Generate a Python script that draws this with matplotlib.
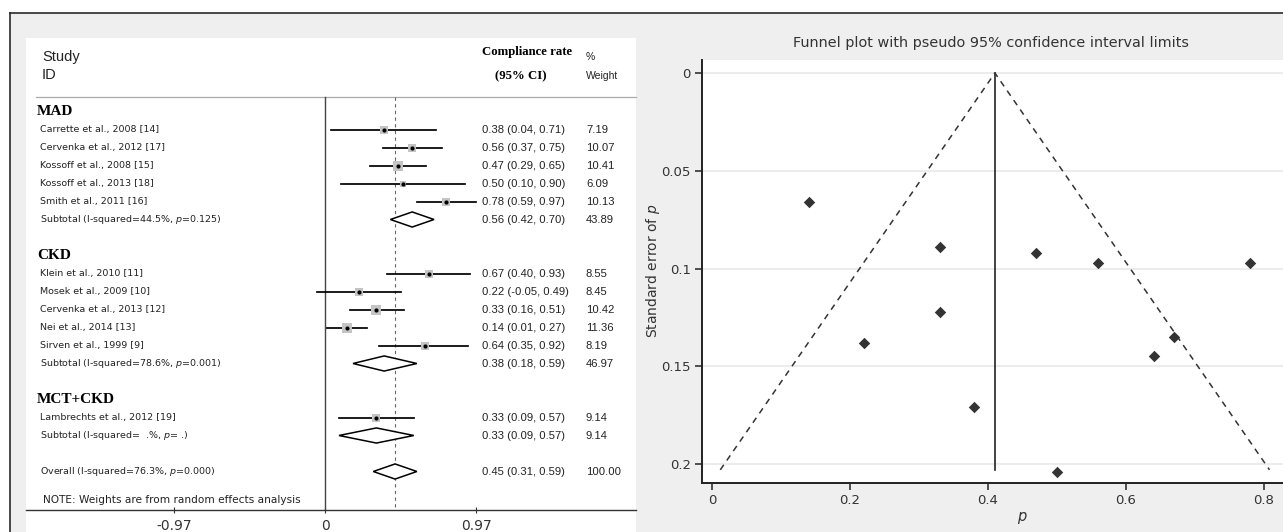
"""
Forest plot of compliance rates by diet group, next to a funnel plot
with pseudo 95% confidence limits.
"""

import matplotlib
matplotlib.use("Agg")
import matplotlib.pyplot as plt
from matplotlib.patches import Rectangle, Polygon

plt.rcParams['mathtext.fontset'] = 'custom'
plt.rcParams['mathtext.it'] = 'DejaVu Sans:italic'
plt.rcParams['mathtext.rm'] = 'DejaVu Sans'

W, H = 1283, 532

# Study data
group_names = ["MAD", "CKD", "MCT+CKD"]
group_sizes = [5, 5, 1]
studies = [
    "Carrette et al., 2008 [14]",
    "Cervenka et al., 2012 [17]",
    "Kossoff et al., 2008 [15]",
    "Kossoff et al., 2013 [18]",
    "Smith et al., 2011 [16]",
    "Klein et al., 2010 [11]",
    "Mosek et al., 2009 [10]",
    "Cervenka et al., 2013 [12]",
    "Nei et al., 2014 [13]",
    "Sirven et al., 1999 [9]",
    "Lambrechts et al., 2012 [19]",
]
est = [0.38, 0.56, 0.47, 0.50, 0.78, 0.67, 0.22, 0.33, 0.14, 0.64, 0.33]
lci = [0.04, 0.37, 0.29, 0.10, 0.59, 0.40, -0.05, 0.16, 0.01, 0.35, 0.09]
uci = [0.71, 0.75, 0.65, 0.90, 0.97, 0.93, 0.49, 0.51, 0.27, 0.92, 0.57]
weight = [7.19, 10.07, 10.41, 6.09, 10.13, 8.55, 8.45, 10.42, 11.36, 8.19, 9.14]

# Subtotals per group
sub_labels = [
    "Subtotal (I-squared=44.5%, $p$=0.125)",
    "Subtotal (I-squared=78.6%, $p$=0.001)",
    "Subtotal (I-squared=  .%, $p$= .)",
]
sub_est = [0.56, 0.38, 0.33]
sub_lci = [0.42, 0.18, 0.09]
sub_uci = [0.70, 0.59, 0.57]
sub_weight = [43.89, 46.97, 9.14]

# Overall
overall_label = "Overall (I-squared=76.3%, $p$=0.000)"
overall_est, overall_lci, overall_uci, overall_weight = 0.45, 0.31, 0.59, 100.00

# Funnel plot data
funnel_p = [0.38, 0.56, 0.47, 0.50, 0.78, 0.67, 0.22, 0.33, 0.14, 0.64, 0.33]
funnel_se = [0.171, 0.097, 0.092, 0.204, 0.097, 0.135, 0.138, 0.089, 0.066, 0.145, 0.122]
funnel_center = 0.41
funnel_se_max = 0.203
funnel_lo_bottom = 0.012
funnel_hi_bottom = 0.808


def px_box(x0, y0, x1, y1):
    """Pixel rectangle (top-left origin) -> figure fraction box."""
    return [x0 / W, 1 - y1 / H, (x1 - x0) / W, (y1 - y0) / H]


fig = plt.figure(figsize=(W / 100, H / 100), dpi=100)
fig.patch.set_facecolor('white')

# Background: gray panel, white forest area, outer frame
bg = fig.add_axes([0, 0, 1, 1], zorder=-10)
bg.set_xlim(0, W)
bg.set_ylim(H, 0)
bg.axis('off')
bg.add_patch(Rectangle((10, 13), W - 10, H - 13, facecolor='#efefef', edgecolor='none'))
bg.add_patch(Rectangle((26, 38), 610, H - 38, facecolor='white', edgecolor='none'))
bg.plot([10, W], [13, 13], color='#2a2a2a', lw=1.2)
bg.plot([10, 10], [13, H], color='#2a2a2a', lw=1.2)

# ---------------- Forest plot ----------------
ax = fig.add_axes(px_box(26, 38, 636, 510))
ax.set_facecolor('white')
x0_px, x_scale = 325, 155.7
row0_px, row_step = 111.5, 18.0


def dx(px):
    return (px - x0_px) / x_scale


def row(py):
    return (py - row0_px) / row_step


ax.set_xlim(dx(26), dx(636))
ax.set_ylim(row(510), row(38))
for s in ['top', 'right', 'left']:
    ax.spines[s].set_visible(False)
ax.spines['bottom'].set_color('#333333')
ax.spines['bottom'].set_linewidth(1.0)
ax.set_yticks([])
ax.set_xticks([-0.97, 0, 0.97])
ax.set_xticklabels(["-0.97", "0", "0.97"])
ax.tick_params(axis='x', direction='inout', length=5, width=0.8,
               labelsize=10, pad=4, colors='#333333')

est_x, weight_x, label_x = dx(482), dx(586), dx(40)
small = dict(fontsize=6.8, va='center', color='#222222', family='DejaVu Sans')
num = dict(fontsize=8.1, va='center', color='#222222', family='Liberation Sans')

# Header
ax.text(dx(42), row(57), "Study", fontsize=10.5, va='center', family='Liberation Sans', color='#222222')
ax.text(dx(42), row(75), "ID", fontsize=10.5, va='center', family='Liberation Sans', color='#222222')
ax.text(est_x, row(52), "Compliance rate", fontsize=9.2, fontweight='bold', va='center',
        family='Liberation Serif')
ax.text(dx(521), row(76), "(95% CI)", fontsize=9.2, fontweight='bold', va='center',
        ha='center', family='Liberation Serif')
ax.text(weight_x, row(57), "%", fontsize=7.5, va='center', family='Liberation Sans', color='#222222')
ax.text(weight_x, row(76), "Weight", fontsize=7.5, va='center', family='Liberation Sans', color='#222222')
ax.plot([dx(36), dx(636)], [row(97), row(97)], color='#aaaaaa', lw=0.9, clip_on=False)

# Reference lines
ax.plot([0, 0], [row(97), row(510)], color='#444444', lw=1.0)
ax.plot([overall_est, overall_est], [row(97), row(510)], color='#666666', lw=0.8,
        dashes=(3, 3))


def diamond(ax, r, e, lo, hi):
    ax.add_patch(Polygon([(lo, r), (e, r - 0.42), (hi, r), (e, r + 0.42)],
                         closed=True, facecolor='white', edgecolor='black',
                         lw=1.1, zorder=4))


r = 0
i = 0
for g, name in enumerate(group_names):
    ax.text(dx(37), r, name, fontsize=11, fontweight='bold', va='center',
            family='Liberation Serif')
    r += 1
    for _ in range(group_sizes[g]):
        side = 2.8 * weight[i] ** 0.5 * 0.72
        ax.plot([lci[i], uci[i]], [r, r], color='black', lw=1.25, zorder=3)
        ax.scatter(est[i], r, marker='s', s=side ** 2, color='#c4c4c4', zorder=4, linewidths=0)
        ax.scatter(est[i], r, marker='o', s=9, color='black', zorder=5, linewidths=0)
        ax.text(label_x, r, studies[i], **small)
        ax.text(est_x, r, f"{est[i]:.2f} ({lci[i]:.2f}, {uci[i]:.2f})", **num)
        ax.text(weight_x, r, f"{weight[i]:.2f}", **num)
        r += 1
        i += 1
    diamond(ax, r, sub_est[g], sub_lci[g], sub_uci[g])
    ax.text(label_x, r, sub_labels[g], **small)
    ax.text(est_x, r, f"{sub_est[g]:.2f} ({sub_lci[g]:.2f}, {sub_uci[g]:.2f})", **num)
    ax.text(weight_x, r, f"{sub_weight[g]:.2f}", **num)
    r += 2

diamond(ax, r, overall_est, overall_lci, overall_uci)
ax.text(label_x, r, overall_label, **small)
ax.text(est_x, r, f"{overall_est:.2f} ({overall_lci:.2f}, {overall_uci:.2f})", **num)
ax.text(weight_x, r, f"{overall_weight:.2f}", **num)
ax.text(dx(43), row(500), "NOTE: Weights are from random effects analysis",
        fontsize=7.6, va='center', color='#222222', family='DejaVu Sans')

# ---------------- Funnel plot ----------------
fx0_px, fx_scale = 712, 690.0
fy0_px, fy_scale = 73, 1955.0
fax = fig.add_axes(px_box(702, 60, 1342, 483))
fax.set_facecolor('white')
fax.set_xlim((702 - fx0_px) / fx_scale, (1342 - fx0_px) / fx_scale)
fax.set_ylim((483 - fy0_px) / fy_scale, (60 - fy0_px) / fy_scale)
for s in ['top', 'right']:
    fax.spines[s].set_visible(False)
for s in ['left', 'bottom']:
    fax.spines[s].set_color('#222222')
    fax.spines[s].set_linewidth(1.4)

fax.set_yticks([0, 0.05, 0.1, 0.15, 0.2])
fax.set_yticklabels(["0", "0.05", "0.1", "0.15", "0.2"])
fax.set_xticks([0, 0.2, 0.4, 0.6, 0.8])
fax.set_xticklabels(["0", "0.2", "0.4", "0.6", "0.8"])
fax.tick_params(length=5, width=1.2, labelsize=9.5, pad=3, colors='#333333')
fax.grid(axis='y', color='#ececec', lw=1.5)
fax.set_axisbelow(True)

fax.plot([funnel_center, funnel_center], [0, funnel_se_max], color='#222222', lw=1.2)
fax.plot([funnel_lo_bottom, funnel_center, funnel_hi_bottom],
         [funnel_se_max, 0, funnel_se_max], color='#333333', lw=1.1, dashes=(4, 3.5))
fax.scatter(funnel_p, funnel_se, marker='D', s=34, color='#333333', zorder=5, linewidths=0)

fig.text(991 / W, 1 - 43 / H, "Funnel plot with pseudo 95% confidence interval limits",
         ha='center', va='center', fontsize=10.4, color='#333333')
fig.text(653 / W, 1 - 271 / H, "Standard error of $p$", rotation=90,
         ha='center', va='center', fontsize=10, color='#333333')
fig.text(1022 / W, 1 - 518 / H, "$p$", ha='center', va='center',
         fontsize=10.5, color='#333333')

fig.savefig("out.png", dpi=100, facecolor=fig.get_facecolor())
